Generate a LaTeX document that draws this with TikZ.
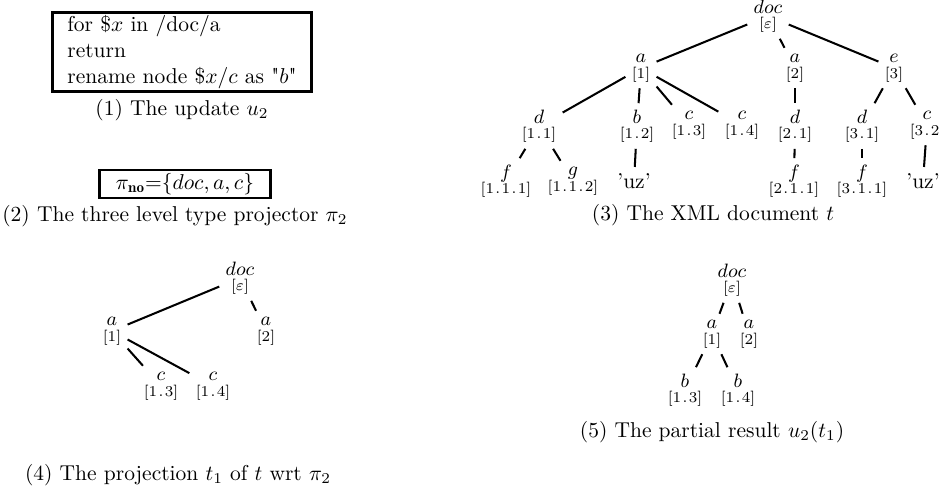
\documentclass[tikz,border=0pt]{standalone}
\usepackage{fontspec}
\newcommand\trlab[2]{{\small$#1$}\\{[#2]}}
\newcommand\dt{\kern.09em.\kern.09em}
\begin{document}
\begin{tikzpicture}[x=0.465pt,y=-0.465pt,
  tn/.style={font=\fontsize{7}{7.2}\selectfont, align=center, inner sep=0pt, outer sep=3pt},
  leaf/.style={font=\normalsize, inner sep=0pt, outer sep=3pt},
  edge/.style={line width=0.95pt},
  capt/.style={font=\normalsize, inner sep=0pt},
  boxed/.style={draw, line width=1.2pt, font=\normalsize}]
\path[use as bounding box] (0,0) rectangle (939,503);

% (1) update
\node[boxed, align=left, inner xsep=7pt, inner ysep=1.5pt] (upd) at (182,52)
  {for \$$x$ in /doc/a\\return\\rename node \$$x/c$ as \textquotedbl$b$\textquotedbl};
\node[capt] (cap1) at (182,110) {(1) The update $u_2$};

% (2) projector
\node[boxed, inner xsep=7.5pt, inner ysep=1.5pt] (proj) at (185,184)
  {$\pi_{\mathbf{no}}{=}\{doc, a, c\}$};
\node[capt] (cap2) at (175,216) {(2) The three level type projector $\pi_2$};

% (3) XML document t
\node[tn] (t3doc) at (768,16) {\trlab{doc}{$\varepsilon$}};
\node[tn] (t3a1) at (641,68) {\trlab{a}{1}};
\node[tn] (t3a2) at (795,68) {\trlab{a}{2}};
\node[tn] (t3e3) at (894,68) {\trlab{e}{3}};
\node[tn] (t3d11) at (539,126) {\trlab{d}{1\dt1}};
\node[tn] (t3b12) at (637,126) {\trlab{b}{1\dt2}};
\node[tn] (t3c13) at (689,125) {\trlab{c}{1\dt3}};
\node[tn] (t3c14) at (742,125) {\trlab{c}{1\dt4}};
\node[tn] (t3d21) at (795,126) {\trlab{d}{2\dt1}};
\node[tn] (t3d31) at (862,126) {\trlab{d}{3\dt1}};
\node[tn] (t3c32) at (927,125) {\trlab{c}{3\dt2}};
\node[tn] (t3f111) at (506,181) {\trlab{f}{1\dt1\dt1}};
\node[tn] (t3g112) at (573,181) {\trlab{g}{1\dt1\dt2}};
\node[leaf] (t3uz1) at (634,181) {'uz'};
\node[tn] (t3f211) at (794,181) {\trlab{f}{2\dt1\dt1}};
\node[tn] (t3f311) at (862,181) {\trlab{f}{3\dt1\dt1}};
\node[leaf] (t3uz2) at (923,181) {'uz'};
\foreach \p/\c in {t3doc/t3a1, t3doc/t3a2, t3doc/t3e3,
  t3a1/t3d11, t3a1/t3b12, t3a1/t3c13, t3a1/t3c14, t3a2/t3d21,
  t3e3/t3d31, t3e3/t3c32, t3d11/t3f111, t3d11/t3g112, t3b12/t3uz1,
  t3d21/t3f211, t3d31/t3f311, t3c32/t3uz2}
  \draw[edge] (\p) -- (\c);
\node[capt] (cap3) at (713,215) {(3) The XML document $t$};

% (4) projection t1
\node[tn] (t4doc) at (240,278) {\trlab{doc}{$\varepsilon$}};
\node[tn] (t4a1) at (112,331) {\trlab{a}{1}};
\node[tn] (t4a2) at (266,331) {\trlab{a}{2}};
\node[tn] (t4c13) at (161,386) {\trlab{c}{1\dt3}};
\node[tn] (t4c14) at (213,386) {\trlab{c}{1\dt4}};
\foreach \p/\c in {t4doc/t4a1, t4doc/t4a2, t4a1/t4c13, t4a1/t4c14}
  \draw[edge] (\p) -- (\c);
\node[capt] (cap4) at (178,475) {(4) The projection $t_1$ of $t$ wrt $\pi_2$};

% (5) partial result
\node[tn] (t5doc) at (732,280) {\trlab{doc}{$\varepsilon$}};
\node[tn] (t5a1) at (712,334) {\trlab{a}{1}};
\node[tn] (t5a2) at (749,334) {\trlab{a}{2}};
\node[tn] (t5b13) at (685,390) {\trlab{b}{1\dt3}};
\node[tn] (t5b14) at (738,390) {\trlab{b}{1\dt4}};
\foreach \p/\c in {t5doc/t5a1, t5doc/t5a2, t5a1/t5b13, t5a1/t5b14}
  \draw[edge] (\p) -- (\c);
\node[capt] (cap5) at (712,432) {(5) The partial result $u_2(t_1)$};
\end{tikzpicture}
\end{document}
